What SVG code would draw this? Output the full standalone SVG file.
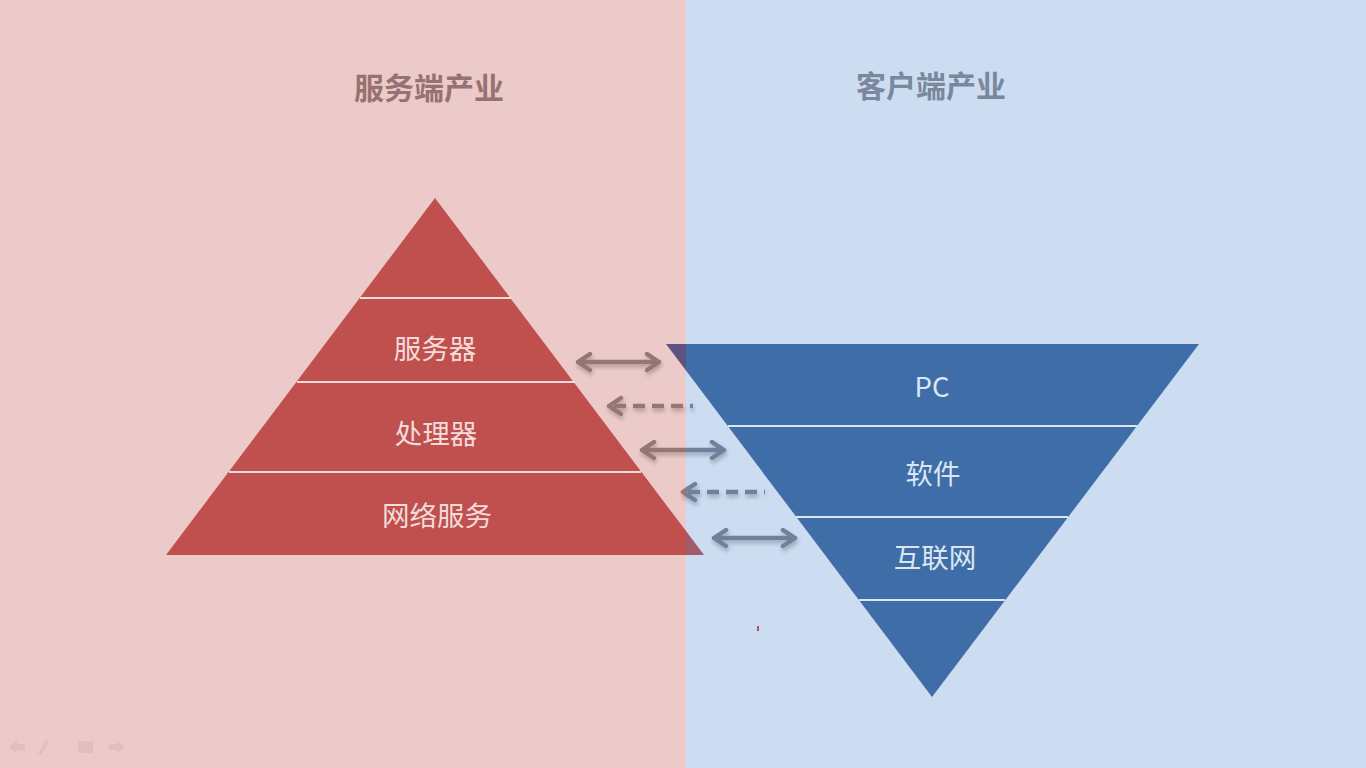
<svg xmlns="http://www.w3.org/2000/svg" width="1366" height="768" viewBox="0 0 1366 768">
<defs>
<style>
.t{font-family:"Noto Sans CJK SC","Liberation Sans",sans-serif;text-anchor:middle}
.lab{font-size:27.5px}
.title{font-size:30px;font-weight:bold}
.sep{stroke-width:2}
.arr{fill:none;stroke-width:4.5;stroke-linecap:round;stroke-linejoin:round}
.dash{stroke-dasharray:12 7;stroke-linecap:butt}
</style>
<clipPath id="L"><rect x="0" y="0" width="686" height="768"/></clipPath>
<clipPath id="R"><rect x="686" y="0" width="680" height="768"/></clipPath>
<filter id="sh" x="-20%" y="-50%" width="140%" height="200%"><feGaussianBlur in="SourceAlpha" stdDeviation="2"/><feOffset dx="1" dy="3"/><feComponentTransfer><feFuncA type="linear" slope="0.25"/></feComponentTransfer><feMerge><feMergeNode/><feMergeNode in="SourceGraphic"/></feMerge></filter>
<g id="arrows">
<path d="M578,362 H659 M590,354 L578,362 L590,370 M647,354 L659,362 L647,370"/>
<path d="M609,406 L621,398 M609,406 L621,414"/>
<path class="dash" d="M614,406 H693"/>
<path d="M642,450 H724 M654,442 L642,450 L654,458 M712,442 L724,450 L712,458"/>
<path d="M683,492 L695,484 M683,492 L695,500"/>
<path class="dash" d="M688,492 H765"/>
<path d="M714,538 H795 M726,530 L714,538 L726,546 M783,530 L795,538 L783,546"/>
</g>
</defs>
<rect x="0" y="0" width="686" height="768" fill="#ECCACA"/>
<rect x="686" y="0" width="680" height="768" fill="#CCDCF1"/>
<g id="titles">
<text class="t title" x="429" y="99" fill="#967272">服务端产业</text>
<text class="t title" x="931" y="97" fill="#7A879C">客户端产业</text>
</g>
<g id="server-pyramid">
<polygon points="435,198 704,555 166,555" fill="#C0504D" clip-path="url(#L)"/>
<polygon points="435,198 704,555 166,555" fill="#A25A6C" clip-path="url(#R)"/>
<g stroke="#F2DCDB" class="sep">
<line x1="360" y1="298" x2="511" y2="298"/>
<line x1="297" y1="382" x2="575" y2="382"/>
<line x1="229" y1="472" x2="641" y2="472"/>
</g>
</g>
<g id="client-pyramid">
<polygon points="666,344 1199,344 932,697" fill="#3F6DA7" clip-path="url(#R)"/>
<polygon points="666,344 1199,344 932,697" fill="#5E5380" clip-path="url(#L)"/>
<g stroke="#DCE6F2" class="sep">
<line x1="728" y1="426" x2="1137" y2="426"/>
<line x1="796" y1="517" x2="1068" y2="517"/>
<line x1="859" y1="600" x2="1005" y2="600"/>
</g>
</g>
<g id="node-server"><text class="t lab" x="435" y="359" fill="#F2DCDB">服务器</text></g>
<g id="node-cpu"><text class="t lab" x="436" y="444" fill="#F2DCDB">处理器</text></g>
<g id="node-netsvc"><text class="t lab" x="437" y="526" fill="#F2DCDB">网络服务</text></g>
<g id="node-pc"><text class="t lab" x="932" y="397" fill="#DCE6F2">PC</text></g>
<g id="node-software"><text class="t lab" x="933" y="484" fill="#DCE6F2">软件</text></g>
<g id="node-internet"><text class="t lab" x="935" y="568" fill="#DCE6F2">互联网</text></g>
<g id="connectors" filter="url(#sh)">
<use href="#arrows" class="arr" stroke="#977474" clip-path="url(#L)"/>
<use href="#arrows" class="arr" stroke="#71819B" clip-path="url(#R)"/>
</g>
<rect x="757" y="626" width="2" height="5" fill="#B05060"/>
<g id="nav" fill="#E2BEBE" stroke="none">
<polygon points="9,747 17,740 17,744 25,744 25,750 17,750 17,754"/>
<polygon points="46,740 49,742 41,755 38,753"/>
<rect x="78" y="741" width="15" height="12"/>
<polygon points="125,747 117,740 117,744 109,744 109,750 117,750 117,754"/>
</g>
</svg>
